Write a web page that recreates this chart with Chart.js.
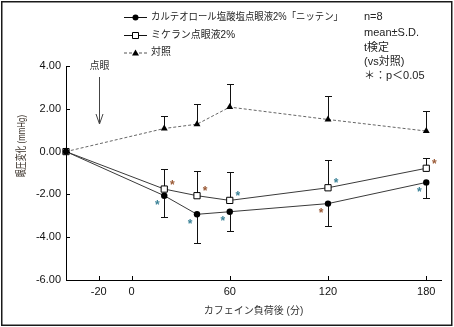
<!DOCTYPE html>
<html>
<head>
<meta charset="utf-8">
<script src="https://cdn.jsdelivr.net/npm/chart.js@4/dist/chart.umd.min.js"></script>
<style>
html, body { margin: 0; padding: 0; background: #fff; }
canvas { display: block; }
</style>
</head>
<body>
<canvas id="myChart" width="454" height="327"></canvas>
<script>
// 測定時点（分）と目盛
var times = [-40, 20, 40, 60, 120, 180];
var xTickValues = [-20, 0, 60, 120, 180];
var yTickValues = [4, 2, 0, -2, -4, -6];

var legendLabels = ['カルテオロール塩酸塩点眼液2%「ニッテン」', 'ミケラン点眼液2%', '対照'];
var noteLines = ['n=8', 'mean±S.D.', 't検定', '(vs対照)', '＊：p＜0.05'];

// 眼圧変化 mean / S.D. (mmHg)
var carteololMean = [0, -2.06, -2.93, -2.81, -2.43, -1.44];
var carteololSD = [0, 1.01, 1.36, 0.90, 1.05, 0.73];
var mikelanMean = [0, -1.75, -2.06, -2.28, -1.69, -0.78];
var mikelanSD = [0, 0.95, 1.17, 1.35, 1.31, 0.50];
var controlMean = [0, 1.08, 1.28, 2.08, 1.50, 0.96];
var controlSD = [0, 0.58, 0.93, 1.06, 1.08, 0.95];

// 有意差あり (vs対照)
var carteololSig = [false, true, true, true, true, true];
var mikelanSig = [false, true, true, true, true, true];

var FONT = '"Liberation Sans", "Noto Sans CJK JP", sans-serif';
var STAR_BROWN = '#9a5a36',
    STAR_TEAL = '#3b8297';

/**
 * 時点と値から {x, y} の配列を作る
 * @param values
 * @returns {Array}
 */
function toPoints(values) {
    return times.map(function (t, i) {
        return {x: t, y: values[i]};
    });
}

/**
 * 片側のエラーバー (dir: 1=上, -1=下)
 */
function drawErrorBars(ctx, chart, means, sds, dir) {
    var xs = chart.scales.x,
        ys = chart.scales.y;
    ctx.save();
    ctx.strokeStyle = '#111';
    ctx.lineWidth = 1;
    for (var i = 0; i < means.length; i++) {
        if (!sds[i]) continue;
        var x = Math.round(xs.getPixelForValue(times[i])) + 0.5,
            y0 = ys.getPixelForValue(means[i]),
            y1 = Math.round(ys.getPixelForValue(means[i] + dir * sds[i])) + 0.5;
        ctx.beginPath();
        ctx.moveTo(x, y0);
        ctx.lineTo(x, y1);
        ctx.moveTo(x - 3.5, y1);
        ctx.lineTo(x + 3.5, y1);
        ctx.stroke();
    }
    ctx.restore();
}

/**
 * 有意差の＊印
 */
function drawStars(ctx, chart, means, sig, dx, dy, colors) {
    var xs = chart.scales.x,
        ys = chart.scales.y;
    ctx.save();
    ctx.font = 'bold 12px ' + FONT;
    ctx.textAlign = 'center';
    ctx.textBaseline = 'alphabetic';
    var m = ctx.measureText('*'),
        shift = (m.actualBoundingBoxAscent - m.actualBoundingBoxDescent) / 2;
    for (var i = 0; i < means.length; i++) {
        if (!sig[i]) continue;
        ctx.fillStyle = colors[i];
        ctx.fillText('*', xs.getPixelForValue(times[i]) + dx, ys.getPixelForValue(means[i]) + dy + shift);
    }
    ctx.restore();
}

// 凡例のマーカー
function legendMarker(ctx, kind, x, y) {
    ctx.beginPath();
    if (kind === 'circle') {
        ctx.arc(x, y, 3, 0, Math.PI * 2);
        ctx.fillStyle = '#000';
        ctx.fill();
    } else if (kind === 'rect') {
        ctx.rect(x - 3, y - 3, 6, 6);
        ctx.fillStyle = '#fff';
        ctx.fill();
        ctx.strokeStyle = '#000';
        ctx.stroke();
    } else {
        ctx.moveTo(x, y - 3.5);
        ctx.lineTo(x + 3.5, y + 2.5);
        ctx.lineTo(x - 3.5, y + 2.5);
        ctx.closePath();
        ctx.fillStyle = '#000';
        ctx.fill();
    }
}

var errorBarPlugin = {
    id: 'errorBars',
    beforeDatasetsDraw: function (chart) {
        var ctx = chart.ctx;
        drawErrorBars(ctx, chart, controlMean, controlSD, 1);
        drawErrorBars(ctx, chart, mikelanMean, mikelanSD, 1);
        drawErrorBars(ctx, chart, carteololMean, carteololSD, -1);
    }
};

var decorPlugin = {
    id: 'decor',
    afterDraw: function (chart) {
        var ctx = chart.ctx,
            xs = chart.scales.x,
            ys = chart.scales.y,
            area = chart.chartArea;

        ctx.save();
        // 外枠
        ctx.strokeStyle = '#1a1a1a';
        ctx.lineWidth = 1.5;
        ctx.strokeRect(1.75, 1.75, 450, 323.5);

        // 内向きの目盛
        ctx.strokeStyle = '#000';
        ctx.lineWidth = 1;
        ctx.beginPath();
        yTickValues.forEach(function (v) {
            var y = Math.round(ys.getPixelForValue(v)) + 0.5;
            ctx.moveTo(area.left, y);
            ctx.lineTo(area.left + 4, y);
        });
        xTickValues.forEach(function (v) {
            var x = Math.round(xs.getPixelForValue(v)) + 0.5;
            ctx.moveTo(x, area.bottom);
            ctx.lineTo(x, area.bottom - 4);
        });
        ctx.stroke();

        // 点眼の矢印
        var ax = Math.round(xs.getPixelForValue(-20)) + 0.5;
        ctx.strokeStyle = '#444';
        ctx.beginPath();
        ctx.moveTo(ax, 77);
        ctx.lineTo(ax, 124);
        ctx.moveTo(ax - 3.5, 114);
        ctx.lineTo(ax, 124);
        ctx.lineTo(ax + 3.5, 114);
        ctx.stroke();
        ctx.fillStyle = '#333';
        ctx.font = '10px ' + FONT;
        ctx.textAlign = 'center';
        ctx.textBaseline = 'middle';
        ctx.fillText('点眼', ax, 66);

        // 縦軸タイトル
        ctx.save();
        ctx.translate(22, 146);
        ctx.rotate(-Math.PI / 2);
        ctx.fillStyle = '#3d342c';
        ctx.font = '11px ' + FONT;
        ctx.fillText('眼圧変化 (mmHg)', 0, 0, 62);
        ctx.restore();

        // 凡例
        var rows = [17, 35, 52.5],
            kinds = ['circle', 'rect', 'triangle'],
            widths = [192, 84, 30];
        for (var i = 0; i < rows.length; i++) {
            var ly = rows[i] + 0.5;
            ctx.strokeStyle = i === 2 ? '#555' : '#111';
            ctx.lineWidth = 1;
            ctx.setLineDash(i === 2 ? [3, 2] : []);
            ctx.beginPath();
            ctx.moveTo(124, ly);
            ctx.lineTo(147, ly);
            ctx.stroke();
            ctx.setLineDash([]);
            legendMarker(ctx, kinds[i], 135.5, ly);
            ctx.fillStyle = '#222';
            ctx.font = '10px ' + FONT;
            ctx.textAlign = 'left';
            ctx.textBaseline = 'middle';
            ctx.fillText(legendLabels[i], 151, rows[i], widths[i]);
        }

        // n数・検定の注記
        var noteY = [17, 33, 47.5, 62, 76];
        ctx.fillStyle = '#222';
        ctx.font = '11px ' + FONT;
        noteLines.forEach(function (t, k) {
            ctx.fillText(t, 364, noteY[k]);
        });
        ctx.restore();

        drawStars(ctx, chart, mikelanMean, mikelanSig, 8, -7,
            ['', STAR_BROWN, STAR_BROWN, STAR_TEAL, STAR_TEAL, STAR_BROWN]);
        drawStars(ctx, chart, carteololMean, carteololSig, -7, 7,
            ['', STAR_TEAL, STAR_TEAL, STAR_TEAL, STAR_BROWN, STAR_TEAL]);
    }
};

Chart.defaults.font.family = FONT;

var ctx = document.getElementById('myChart').getContext('2d');
var chart = new Chart(ctx, {
    type: 'line',
    data: {
        datasets: [{
            label: legendLabels[0],
            data: toPoints(carteololMean),
            borderColor: '#3a3a3a',
            borderWidth: 1,
            pointStyle: 'circle',
            pointRadius: 3.2,
            pointBackgroundColor: '#000',
            pointBorderColor: '#000',
            pointBorderWidth: 0
        }, {
            label: legendLabels[1],
            data: toPoints(mikelanMean),
            borderColor: '#3a3a3a',
            borderWidth: 1,
            pointStyle: 'rect',
            pointRadius: 4.4,
            pointBackgroundColor: '#fff',
            pointBorderColor: '#000',
            pointBorderWidth: 1
        }, {
            label: legendLabels[2],
            data: toPoints(controlMean),
            borderColor: '#666',
            borderWidth: 1,
            borderDash: [3, 2],
            pointStyle: 'triangle',
            pointRadius: 4,
            pointBackgroundColor: '#000',
            pointBorderColor: '#000',
            pointBorderWidth: 0
        }]
    },
    options: {
        responsive: false,
        animation: false,
        events: [],
        devicePixelRatio: 1,
        layout: {padding: {left: 0, right: 13, top: 66, bottom: 0}},
        elements: {line: {tension: 0}},
        datasets: {line: {clip: false}},
        plugins: {
            legend: {display: false},
            tooltip: {enabled: false}
        },
        scales: {
            x: {
                type: 'linear',
                min: -40,
                max: 189,
                afterBuildTicks: function (scale) {
                    scale.ticks = xTickValues.map(function (v) {
                        return {value: v};
                    });
                },
                afterFit: function (scale) {
                    scale.height = 47;
                },
                grid: {display: false, drawTicks: false},
                border: {display: true, color: '#000', width: 1},
                ticks: {
                    color: '#111',
                    padding: 5,
                    font: {size: 11},
                    maxRotation: 0,
                    autoSkip: false,
                    callback: function (v) {
                        return String(v);
                    }
                },
                title: {
                    display: true,
                    text: 'カフェイン負荷後 (分)',
                    color: '#333',
                    font: {size: 10},
                    padding: {top: 0, bottom: 10}
                }
            },
            y: {
                min: -6,
                max: 4,
                afterBuildTicks: function (scale) {
                    scale.ticks = yTickValues.map(function (v) {
                        return {value: v};
                    });
                },
                afterFit: function (scale) {
                    scale.width = 66;
                },
                grid: {display: false, drawTicks: false},
                border: {display: true, color: '#000', width: 1},
                ticks: {
                    color: '#111',
                    padding: 5,
                    font: {size: 11},
                    callback: function (v) {
                        return v.toFixed(2);
                    }
                }
            }
        }
    },
    plugins: [errorBarPlugin, decorPlugin]
});
</script>
</body>
</html>
